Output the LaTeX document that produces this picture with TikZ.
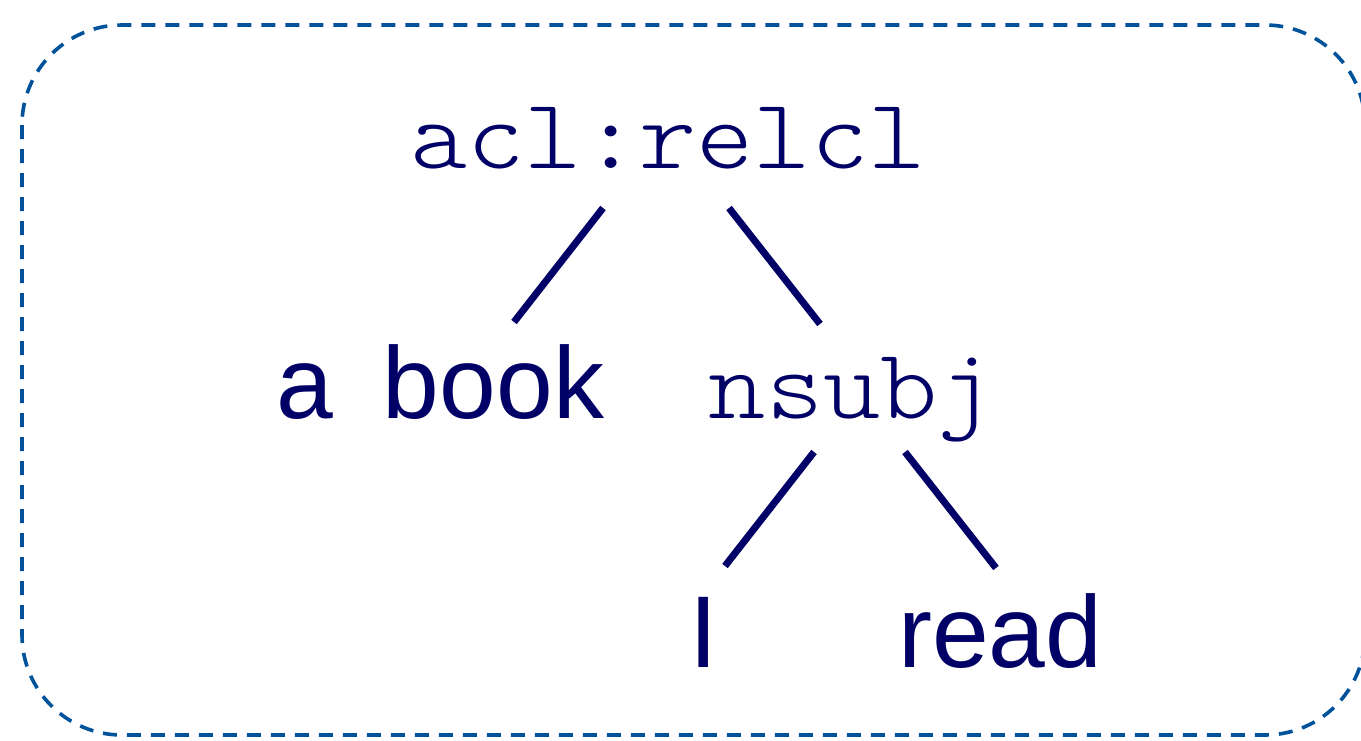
\documentclass[tikz,border=0pt]{standalone}
\usepackage{fontspec}
\setmainfont{Liberation Sans}
\newfontfamily\relfont[FakeStretch=1.09]{Latin Modern Mono Light}
\definecolor{ink}{HTML}{000066}
\definecolor{frame}{HTML}{00529B}
\begin{document}
\begin{tikzpicture}[x=1pt,y=-1pt,
  word/.style={inner sep=0pt, anchor=base west, text=ink, font=\fontsize{102}{102}\selectfont},
  rel/.style={inner sep=0pt, anchor=base, text=ink, font=\relfont\fontsize{100}{100}\selectfont},
  edge/.style={draw=ink, line width=7pt},
  box/.style={draw=frame, line width=3.6pt, dash pattern=on 14pt off 10pt, rounded corners=100pt}]
\useasboundingbox (0,0) rectangle (1361,740);
\draw[box] (22,25) rectangle (1365,735);
\node[rel] (acl) at (668,168) {acl:relcl};
\node[word] (abook) at (276,418) {a\hspace{50pt}book};
\node[rel] (nsubj) at (852,418) {nsubj};
\node[word] (I) at (689,667) {I};
\node[word] (read) at (898,667) {read};
\coordinate (acl-l) at (603,208);
\coordinate (acl-r) at (729,208);
\coordinate (abook-t) at (514,322);
\coordinate (nsubj-t) at (820,324);
\coordinate (nsubj-l) at (814,452);
\coordinate (nsubj-r) at (905,452);
\coordinate (I-t) at (725,566);
\coordinate (read-t) at (996,568);
\draw[edge] (acl-l) -- (abook-t);
\draw[edge] (acl-r) -- (nsubj-t);
\draw[edge] (nsubj-l) -- (I-t);
\draw[edge] (nsubj-r) -- (read-t);
\end{tikzpicture}
\end{document}
